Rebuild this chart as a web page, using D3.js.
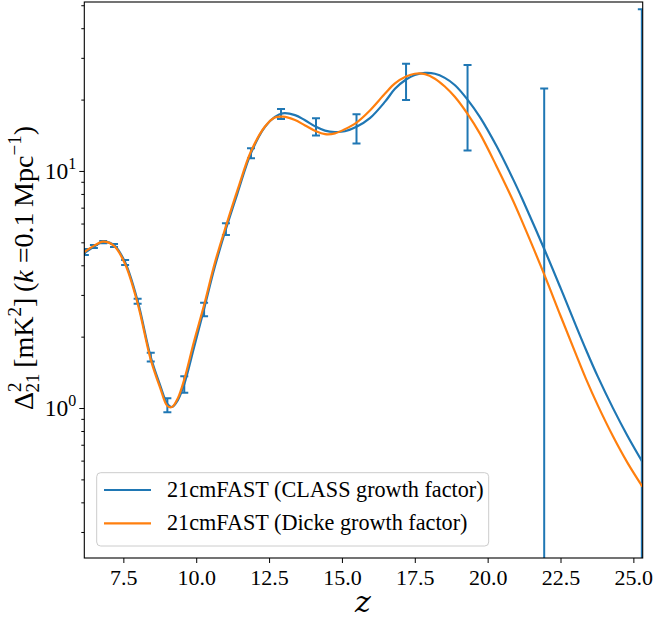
<!DOCTYPE html>
<html>
<head>
<meta charset="utf-8">
<script src="https://cdn.jsdelivr.net/npm/d3@7"></script>
<style>
  body { margin: 0; background: #fff; }
  text { font-family: "Liberation Serif", "DejaVu Serif", serif; fill: #000; }
</style>
</head>
<body>
<svg class="chart" width="654" height="622"></svg>
<script>
// redshift grid the two curves were read on
var zGrid = [6.16, 6.49, 6.80, 7.18, 7.56, 7.99, 8.44, 8.76, 9.01, 9.17, 9.37, 9.59, 9.92, 10.27, 10.64,
  11.02, 11.43, 11.88, 12.36, 12.70, 12.97, 13.39, 13.72, 14.11, 14.42, 14.76, 15.10, 15.50, 15.96,
  16.48, 16.82, 17.20, 17.50, 17.85, 18.19, 18.53, 18.88, 19.31, 19.73, 20.30, 20.88, 21.20, 21.93,
  22.50, 23.00, 23.37, 23.78, 24.30, 24.80, 25.31];
var classCurve = [4.50, 4.79, 5.02, 4.87, 4.12, 2.83, 1.64, 1.25, 1.04, 1.01, 1.08, 1.26, 1.79, 2.62, 3.95,
  5.69, 8.15, 11.9, 15.35, 16.9, 17.5, 17.2, 16.4, 15.35, 14.8, 14.6, 14.7, 15.35, 16.7,
  19.6, 22.2, 24.3, 25.4, 25.9, 25.7, 24.7, 23.0, 20.0, 16.9, 12.76, 9.19, 7.56, 4.72,
  3.21, 2.27, 1.766, 1.356, 0.999, 0.762, 0.592];
var dickeCurve = [4.55, 4.83, 5.03, 4.83, 4.05, 2.76, 1.60, 1.22, 1.02, 1.01, 1.10, 1.32, 1.90, 2.72, 4.10,
  5.85, 8.4, 12.1, 15.4, 16.8, 16.95, 16.4, 15.6, 14.7, 14.3, 14.4, 15.0, 16.0, 18.0,
  21.2, 23.4, 25.0, 25.7, 25.6, 24.5, 22.7, 20.5, 17.4, 14.4, 10.5, 7.45, 6.05, 3.69,
  2.45, 1.72, 1.33, 1.026, 0.760, 0.587, 0.466];

// error bars (CLASS points)
var ebZ = [6.18, 6.49, 6.81, 7.18, 7.56, 7.99, 8.44, 9.01, 9.59, 10.27, 11.02, 11.88, 12.91, 14.11, 15.50, 17.20, 19.31, 21.94, 25.29];
var ebVal = [4.55, 4.80, 5.01, 4.85, 4.11, 2.82, 1.64, 1.03, 1.26, 2.61, 5.69, 11.9, 17.4, 15.4, 15.2, 24.1, 20.1, 4.7, 0.59];
var ebErr = [0.13, 0.07, 0.06, 0.07, 0.10, 0.07, 0.07, 0.07, 0.10, 0.17, 0.32, 0.58, 0.84, 1.3, 2.15, 4.2, 7.9, 17.6, 47.5];

var xTicks = [7.5, 10, 12.5, 15, 17.5, 20, 22.5, 25];
var yMajor = [1, 10];
var yMinor = [0.3, 0.4, 0.5, 0.6, 0.7, 0.8, 0.9, 2, 3, 4, 5, 6, 7, 8, 9, 20, 30, 40, 50];
var legendLabels = ["21cmFAST (CLASS growth factor)", "21cmFAST (Dicke growth factor)"];
var colors = ["#1f77b4", "#ff7f0e"];

var pL = 84.3, pR = 642.7, pT = 2, pB = 558;

var x = d3.scaleLinear().domain([6.16, 25.32]).range([pL, pR]);
var y = d3.scaleLog().domain([0.233, 51.6]).range([pB, pT]);

var svg = d3.select('.chart');

svg.append('defs').append('clipPath').attr('id', 'clip')
  .append('rect').attr('x', pL).attr('y', pT).attr('width', pR - pL).attr('height', pB - pT);

var plot = svg.append('g').attr('clip-path', 'url(#clip)');

// error bars
var eb = plot.append('g').attr('class', 'errorbars');
ebZ.forEach(function(z, i) {
  var lo = Math.max(ebVal[i] - ebErr[i], 1e-3), hi = ebVal[i] + ebErr[i];
  var cx = x(z);
  eb.append('line').attr('x1', cx).attr('x2', cx).attr('y1', y(lo)).attr('y2', y(hi))
    .attr('stroke', colors[0]).attr('stroke-width', 2);
  [lo, hi].forEach(function(v) {
    eb.append('line').attr('x1', cx - 4).attr('x2', cx + 4).attr('y1', y(v)).attr('y2', y(v))
      .attr('stroke', colors[0]).attr('stroke-width', 2);
  });
});

var line = d3.line()
  .x(function(d) { return x(d[0]); })
  .y(function(d) { return y(d[1]); })
  .curve(d3.curveCatmullRom.alpha(0.5));

plot.append('path').datum(d3.zip(zGrid, classCurve))
  .attr('fill', 'none').attr('stroke', colors[0]).attr('stroke-width', 2.2).attr('d', line);
plot.append('path').datum(d3.zip(zGrid, dickeCurve))
  .attr('fill', 'none').attr('stroke', colors[1]).attr('stroke-width', 2.2).attr('d', line);

// axes
var xAxis = svg.append('g').attr('transform', 'translate(0,' + pB + ')')
  .call(d3.axisBottom(x).tickValues(xTicks).tickFormat(d3.format('.1f')).tickSize(5).tickPadding(6));
xAxis.select('.domain').remove();
xAxis.selectAll('text').attr('font-size', 22).attr('font-family', '"Liberation Serif", serif');

var yAxis = svg.append('g').attr('transform', 'translate(' + pL + ',0)')
  .call(d3.axisLeft(y).tickValues(yMajor).tickFormat('').tickSize(5));
yAxis.select('.domain').remove();
svg.append('g').attr('transform', 'translate(' + pL + ',0)')
  .call(d3.axisLeft(y).tickValues(yMinor).tickFormat('').tickSize(3))
  .select('.domain').remove();

yMajor.forEach(function(v, i) {
  var t = svg.append('text').attr('x', pL - 8).attr('y', y(v) + 8)
    .attr('text-anchor', 'end').attr('font-size', 23.5);
  t.append('tspan').text('10');
  t.append('tspan').attr('dy', -10).attr('font-size', 16).text(String(i));
});

// frame
svg.append('rect').attr('x', pL).attr('y', pT).attr('width', pR - pL).attr('height', pB - pT)
  .attr('fill', 'none').attr('stroke', '#000').attr('stroke-width', 1.1);

// legend
var legend = svg.append('g').attr('class', 'legend');
legend.append('rect').attr('x', 96.7).attr('y', 472.7).attr('width', 392).attr('height', 73.3)
  .attr('rx', 4).attr('fill', '#fff').attr('fill-opacity', 0.8).attr('stroke', '#ccc').attr('stroke-width', 1);
legendLabels.forEach(function(lab, i) {
  var ly = 490 + i * 33.3;
  legend.append('line').attr('x1', 104).attr('x2', 151).attr('y1', ly).attr('y2', ly)
    .attr('stroke', colors[i]).attr('stroke-width', 2.2);
  legend.append('text').attr('x', 167).attr('y', ly + 7).attr('font-size', 22.2).text(lab);
});

// x label
svg.append('text').attr('x', 363).attr('y', 612).attr('text-anchor', 'middle')
  .attr('font-size', 30).attr('font-style', 'italic')
  .style('font-family', '"DejaVu Serif", serif').text('z');

// y label
var yl = svg.append('text').attr('transform', 'translate(33,268) rotate(-90)')
  .attr('text-anchor', 'middle').attr('font-size', 28);
yl.append('tspan').text('Δ');
yl.append('tspan').attr('font-size', 19).attr('dy', -12).text('2');
yl.append('tspan').attr('font-size', 19).attr('dx', -10).attr('dy', 18).text('21');
yl.append('tspan').attr('dy', -6).text('\u2009[mK');
yl.append('tspan').attr('font-size', 19).attr('dy', -12).text('2');
yl.append('tspan').attr('dy', 12).text(']\u2009(');
yl.append('tspan').attr('font-style', 'italic').text('k');
yl.append('tspan').text(' =0.1\u2009Mpc');
yl.append('tspan').attr('font-size', 19).attr('dy', -12).text('−1');
yl.append('tspan').attr('dy', 12).text(')');
</script>
</body>
</html>
